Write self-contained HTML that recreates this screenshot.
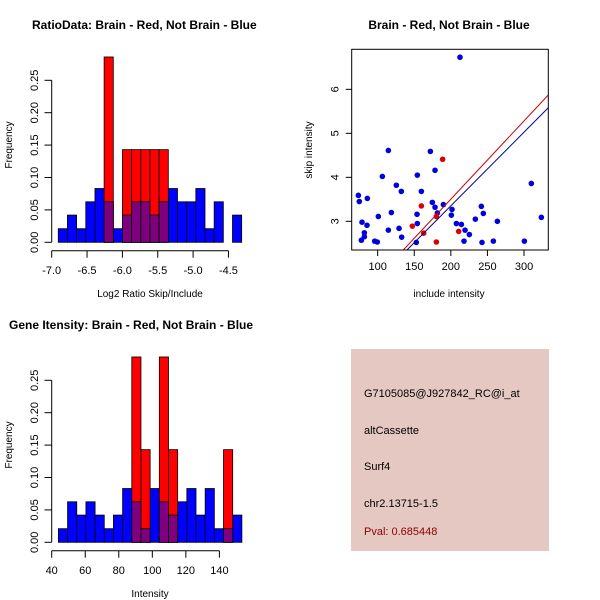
<!DOCTYPE html>
<html><head><meta charset="utf-8"><style>
body{margin:0;background:#fff}
svg{display:block;font-family:"Liberation Sans",sans-serif}
</style></head><body>
<svg id="s" width="600" height="600" xmlns="http://www.w3.org/2000/svg">
<rect x="0" y="0" width="600" height="600" fill="#fff"/>
</svg>
<script>
// ---- Data ----
const ratioBlue = [0.021,0.042,0.021,0.0625,0.083,0.0625,0.021,0.042,0.0625,0.0625,0.042,0.0625,0.083,0.0625,0.0625,0.083,0.021,0.0625,0,0.042];
const ratioRed  = [0,0,0,0,0,0.286,0,0.143,0.143,0.143,0.143,0.143,0,0,0,0,0,0,0,0];
const ratioStart = -6.907, ratioBinW = 0.1297;
const ratioTicks = [-7.0,-6.5,-6.0,-5.5,-5.0,-4.5];
const intBlue = [0.021,0.0625,0.042,0.0625,0.042,0.021,0.042,0.083,0.0625,0.021,0.083,0.0625,0.042,0.0625,0.083,0.042,0.083,0.021,0.021,0.042];
const intRed  = [0,0,0,0,0,0,0,0,0.286,0.143,0,0.286,0.143,0,0,0,0,0,0.143,0];
const intStart = 44.0, intBinW = 5.47;
const intTicks = [40,60,80,100,120,140];
const freqTicks = [0,0.05,0.10,0.15,0.20,0.25];
const blueX = [73.6,74.9,78.6,77.7,81.8,81.8,85.4,85.9,95.9,99.5,100.9,106.4,114.6,114.6,118.7,125.5,129.2,132.3,132.8,152.8,153.8,154.2,154.2,159.7,172.0,174.7,178.4,178.4,181.6,189.8,200.7,201.6,207.6,212.5,214.4,219.4,218.0,225.3,233.5,241.7,242.6,244.4,258.1,263.6,300.5,310.0,323.7];
const blueY = [3.59,3.45,2.98,2.57,2.74,2.65,2.91,3.52,2.55,2.53,3.11,4.02,4.61,2.80,3.20,3.82,2.84,3.68,2.64,2.52,3.16,4.05,2.95,3.68,4.59,3.43,4.16,3.32,3.19,3.38,3.14,3.27,2.95,6.73,2.93,2.80,2.55,2.70,3.05,3.34,2.52,3.18,2.55,3.00,2.55,3.86,3.09];
const redX = [147.4,159.7,162.9,180.2,180.2,188.8,210.7];
const redY = [2.89,3.35,2.73,3.11,2.53,4.41,2.77];
const scXTicks = [100,150,200,250,300];
const scYTicks = [3,4,5,6];
const redLine = {slope:0.01778, x0:135, y0:2.348};
const blueLine = {slope:0.01674, x0:140, y0:2.348};

const NS="http://www.w3.org/2000/svg", S=document.getElementById('s');
function el(tag,attrs,parent){const e=document.createElementNS(NS,tag);for(const k in attrs)e.setAttribute(k,attrs[k]);(parent||S).appendChild(e);return e;}
function txt(x,y,t,attrs){const e=el('text',Object.assign({x:x,y:y,'font-size':11,fill:'#000'},attrs||{}));e.textContent=t;return e;}

function hist(g, oy, blue, red, start, binW, xTicks, xmin, xPerU, xlab, title, titleX){
  const y0=oy+242.3, yk=648;
  const sx=v=>51.7+(v-xmin)*xPerU, sy=v=>y0-v*yk;
  for(let i=0;i<blue.length;i++){
    const a=sx(start+i*binW), b=sx(start+(i+1)*binW);
    if(blue[i]>0){const r=el('rect',{x:a,y:sy(blue[i]),width:b-a,height:blue[i]*yk,fill:'#0000ff',stroke:'#000','stroke-width':0.8},g);
      
      }
  }
  for(let i=0;i<red.length;i++){
    const a=sx(start+i*binW), b=sx(start+(i+1)*binW);
    if(red[i]>0){const r=el('rect',{x:a,y:sy(red[i]),width:b-a,height:red[i]*yk,fill:'#ff0000',stroke:'#000','stroke-width':0.8},g);
      
      
      const m=Math.min(red[i],blue[i]);
      if(m>0){const p=el('rect',{x:a,y:sy(m),width:b-a,height:m*yk,fill:'#7f007f',stroke:'#000','stroke-width':0.8},g);
        
        }
    }
  }
  // y axis
  el('line',{x1:51.7,x2:51.7,y1:sy(0),y2:sy(0.25),stroke:'#000'},g);
  freqTicks.forEach(t=>{el('line',{x1:44.5,x2:51.7,y1:sy(t),y2:sy(t),stroke:'#000'},g);
    const l=txt(0,0,t.toFixed(2),{transform:`translate(38,${sy(t)}) rotate(-90)`,'text-anchor':'middle'});g.appendChild(l);});
  const yl=txt(0,0,'Frequency',{transform:`translate(12,${oy+145}) rotate(-90)`,'text-anchor':'middle','font-size':10});g.appendChild(yl);
  // x axis
  const ay=oy+250.7;
  el('line',{x1:sx(xTicks[0]),x2:sx(xTicks[xTicks.length-1]),y1:ay,y2:ay,stroke:'#000'},g);
  xTicks.forEach(t=>{el('line',{x1:sx(t),x2:sx(t),y1:ay,y2:ay+7,stroke:'#000'},g);
    g.appendChild(txt(sx(t),oy+274,xmin<0?t.toFixed(1):String(t),{'text-anchor':'middle'}));});
  g.appendChild(txt(150,oy+297,xlab,{'text-anchor':'middle','font-size':10}));
  g.appendChild(txt(titleX,oy+29,title,{'font-weight':'bold','font-size':12}));
}

const g1=el('g',{});  
hist(g1,0,ratioBlue,ratioRed,ratioStart,ratioBinW,ratioTicks,-7,70.7,'Log2 Ratio Skip/Include','RatioData: Brain - Red, Not Brain - Blue',32);
const g3=el('g',{});  
hist(g3,300,intBlue,intRed,intStart,intBinW,intTicks,40,1.677,'Intensity','Gene Itensity: Brain - Red, Not Brain - Blue',9);

// scatter
const g2=el('g',{});  
const L=351.7,R=548.3,T=49.3,B=250;
const xmin=64.5,xmax=333.2,ymin=2.348,ymax=6.91;
const px=v=>L+(v-xmin)/(xmax-xmin)*(R-L), py=v=>B-(v-ymin)/(ymax-ymin)*(B-T);
const cp=el('clipPath',{id:'cp'},g2); el('rect',{x:L,y:T,width:R-L,height:B-T},cp);
blueX.forEach((x,i)=>{const c=el('circle',{cx:px(x),cy:py(blueY[i]),r:2.8,fill:'#0000dd'},g2);
  
  });
redX.forEach((x,i)=>{const c=el('circle',{cx:px(x),cy:py(redY[i]),r:2.8,fill:'#dd0000'},g2);
  
  });
[[redLine,'#cc0000','red-fit-line'],[blueLine,'#000080','blue-fit-line']].forEach(([l,c,n])=>{
  const ln=el('line',{x1:px(l.x0),y1:py(l.y0),x2:px(xmax),y2:py(l.y0+(xmax-l.x0)*l.slope),stroke:c,'stroke-width':1,'clip-path':'url(#cp)'},g2);
  
  });
el('rect',{x:L,y:T,width:R-L,height:B-T,fill:'none',stroke:'#000'},g2);
scXTicks.forEach(t=>{el('line',{x1:px(t),x2:px(t),y1:B,y2:B+6,stroke:'#000'},g2);g2.appendChild(txt(px(t),B+20,String(t),{'text-anchor':'middle'}));});
scYTicks.forEach(t=>{el('line',{x1:L-6,x2:L,y1:py(t),y2:py(t),stroke:'#000'},g2);g2.appendChild(txt(0,0,String(t),{transform:`translate(${L-13},${py(t)}) rotate(-90)`,'text-anchor':'middle'}));});
g2.appendChild(txt(449,297,'include intensity',{'text-anchor':'middle','font-size':10}));
g2.appendChild(txt(0,0,'skip intensity',{transform:'translate(312,150) rotate(-90)','text-anchor':'middle','font-size':10}));
g2.appendChild(txt(449,29,'Brain - Red, Not Brain - Blue',{'text-anchor':'middle','font-weight':'bold','font-size':12}));

// info panel
const g4=el('g',{});  
el('rect',{x:351,y:349,width:198,height:202,fill:'#e6c8c2'},g4);
[['G7105085@J927842_RC@i_at',397,'#000'],['altCassette',434,'#000'],['Surf4',470,'#000'],['chr2.13715-1.5',507,'#000'],['Pval: 0.685448',535,'#8b0000']].forEach(([t,y,c])=>g4.appendChild(txt(364,y,t,{fill:c,'font-size':11})));
</script>
</body></html>
